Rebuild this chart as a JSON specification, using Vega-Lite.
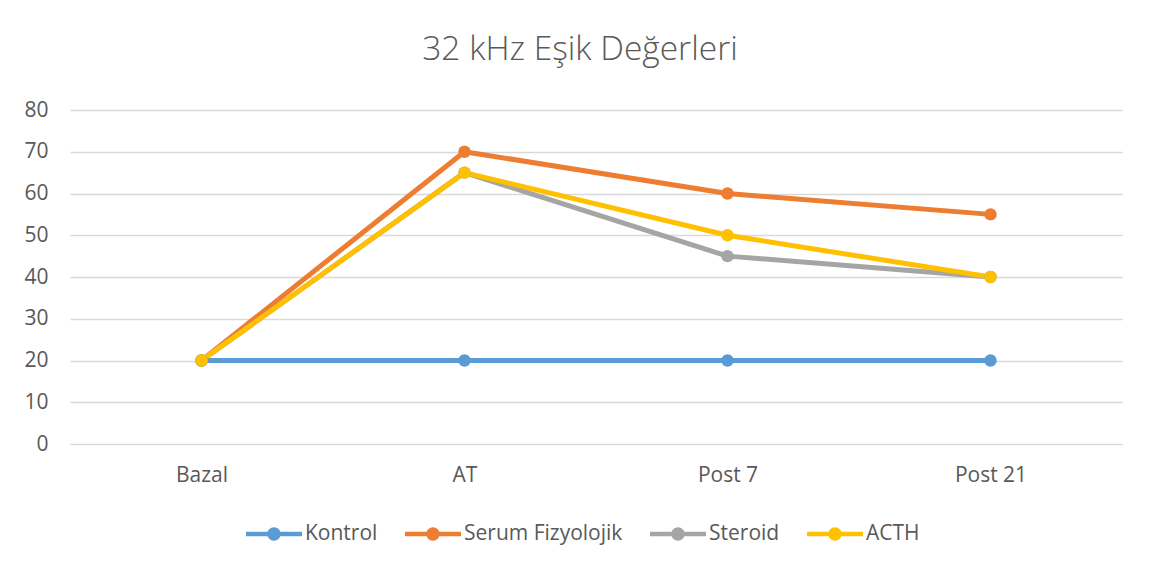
{
  "$schema": "https://vega.github.io/schema/vega-lite/v6.json",
  "autosize": {"type": "none"},
  "width": 1052,
  "height": 334,
  "padding": {"left": 70, "top": 110, "right": 30, "bottom": 137},
  "background": "white",
  "title": {
    "text": "32 kHz Eşik Değerleri",
    "font": "Open Sans",
    "fontSize": 33.5,
    "fontWeight": 300,
    "color": "#595959",
    "anchor": "middle",
    "baseline": "alphabetic",
    "offset": 6,
    "dx": -16
  },
  "config": {
    "view": {"stroke": null},
    "font": "Open Sans",
    "axis": {
      "labelFont": "Open Sans",
      "labelFontSize": 21,
      "labelColor": "#595959",
      "domain": false,
      "ticks": false,
      "title": null
    },
    "legend": {
      "labelFont": "Open Sans",
      "labelFontSize": 21,
      "labelColor": "#595959"
    }
  },
  "data": {
    "values": [
      {"zaman": "Bazal", "grup": "Kontrol", "deger": 20},
      {"zaman": "AT", "grup": "Kontrol", "deger": 20},
      {"zaman": "Post 7", "grup": "Kontrol", "deger": 20},
      {"zaman": "Post 21", "grup": "Kontrol", "deger": 20},
      {"zaman": "Bazal", "grup": "Serum Fizyolojik", "deger": 20},
      {"zaman": "AT", "grup": "Serum Fizyolojik", "deger": 70},
      {"zaman": "Post 7", "grup": "Serum Fizyolojik", "deger": 60},
      {"zaman": "Post 21", "grup": "Serum Fizyolojik", "deger": 55},
      {"zaman": "Bazal", "grup": "Steroid", "deger": 20},
      {"zaman": "AT", "grup": "Steroid", "deger": 65},
      {"zaman": "Post 7", "grup": "Steroid", "deger": 45},
      {"zaman": "Post 21", "grup": "Steroid", "deger": 40},
      {"zaman": "Bazal", "grup": "ACTH", "deger": 20},
      {"zaman": "AT", "grup": "ACTH", "deger": 65},
      {"zaman": "Post 7", "grup": "ACTH", "deger": 50},
      {"zaman": "Post 21", "grup": "ACTH", "deger": 40}
    ]
  },
  "encoding": {
    "x": {
      "field": "zaman",
      "type": "ordinal",
      "sort": ["Bazal", "AT", "Post 7", "Post 21"],
      "scale": {"type": "point", "padding": 0.5},
      "axis": {"labelAngle": 0, "labelPadding": 20, "grid": false}
    },
    "y": {
      "field": "deger",
      "type": "quantitative",
      "scale": {"domain": [0, 80], "nice": false},
      "axis": {
        "values": [0, 10, 20, 30, 40, 50, 60, 70, 80],
        "grid": true,
        "gridColor": "#d9d9d9",
        "gridWidth": 1.3,
        "labelPadding": 22
      }
    },
    "color": {
      "field": "grup",
      "type": "nominal",
      "sort": ["Kontrol", "Serum Fizyolojik", "Steroid", "ACTH"],
      "scale": {
        "domain": ["Kontrol", "Serum Fizyolojik", "Steroid", "ACTH"],
        "range": ["#5B9BD5", "#ED7D31", "#A5A5A5", "#FFC000"]
      },
      "legend": {
        "orient": "none",
        "legendX": 176,
        "legendY": 396,
        "direction": "horizontal",
        "title": null,
        "symbolType": "M-1,-0.08L1,-0.08L1,0.08L-1,0.08Z M0.24,0 A0.24,0.24 0 1,1 -0.24,0 A0.24,0.24 0 1,1 0.24,0 Z",
        "symbolSize": 3136,
        "symbolStrokeWidth": 0,
        "labelOffset": 3,
        "columnPadding": 27,
        "encode": {
          "symbols": {
            "update": {
              "fill": {"scale": "color", "field": "value"},
              "fillOpacity": {"value": 1},
              "strokeWidth": {"value": 0}
            }
          }
        }
      }
    }
  },
  "layer": [
    {"mark": {"type": "line", "strokeWidth": 5, "strokeCap": "round", "strokeJoin": "round"}},
    {"mark": {"type": "point", "filled": true, "size": 155, "opacity": 1}}
  ]
}
